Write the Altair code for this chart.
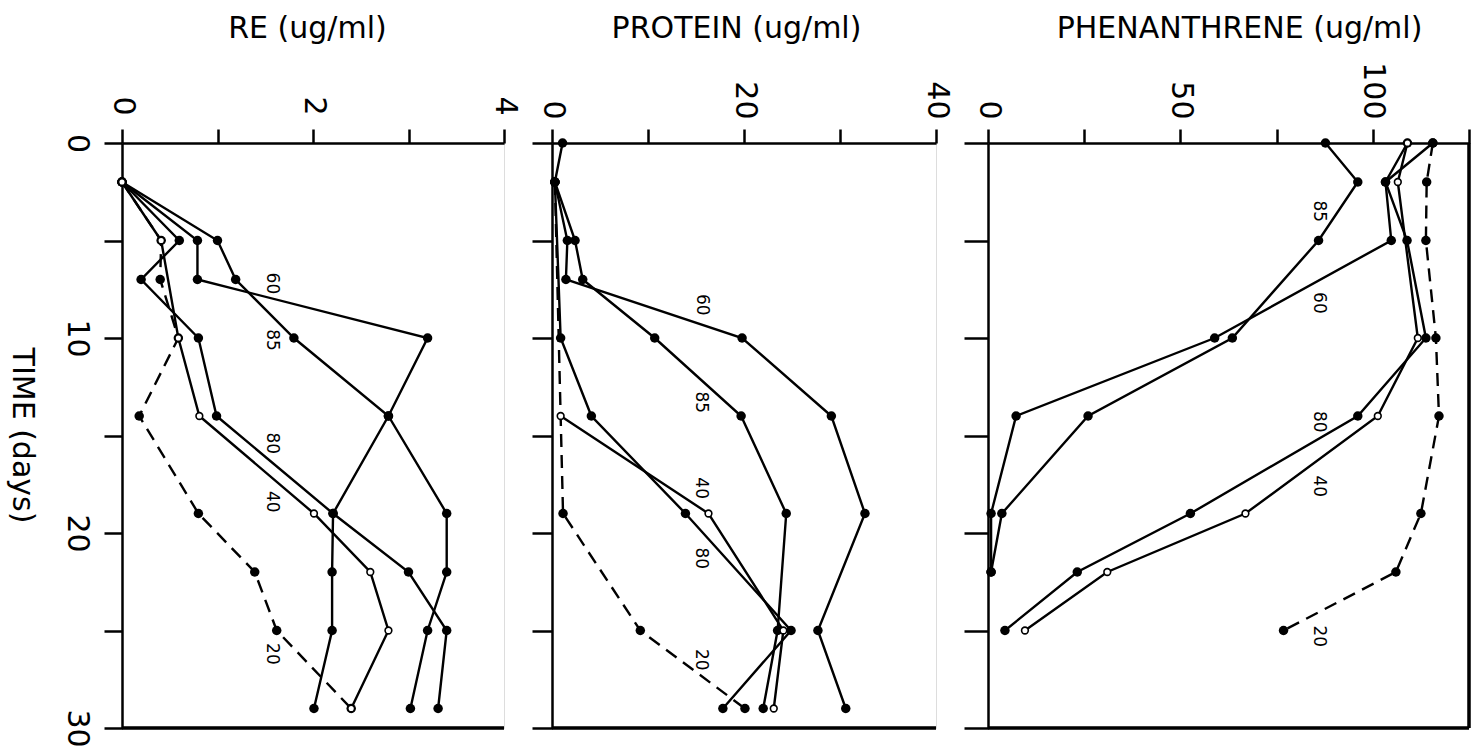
import altair as alt
import pandas as pd

# Sampling days and measured concentrations for each culture (series key = label drawn on the curve)
RE_DAYS = {
    "20": [2, 5, 7, 10, 14, 19, 22, 25, 29],
    "40": [2, 5, 10, 14, 19, 22, 25, 29],
    "60": [2, 5, 7, 10, 14, 19, 22, 25, 29],
    "80": [2, 5, 7, 10, 14, 19, 22, 25, 29],
    "85": [2, 5, 7, 10, 14, 19, 22, 25, 29],
}
RE_VALUES = {
    "20": [0, 0.41, 0.4, 0.59, 0.18, 0.8, 1.39, 1.62, 2.4],
    "40": [0, 0.41, 0.59, 0.81, 2.01, 2.6, 2.79, 2.4],
    "60": [0, 0.79, 0.79, 3.2, 2.79, 2.21, 2.2, 2.2, 2.01],
    "80": [0, 0.6, 0.2, 0.8, 0.99, 2.21, 3.0, 3.4, 3.31],
    "85": [0, 1.0, 1.19, 1.8, 2.79, 3.4, 3.4, 3.2, 3.02],
}

PROTEIN_DAYS = {
    "20": [2, 19, 25, 29],
    "40": [14, 19, 25, 29],
    "60": [0, 2, 5, 7, 10, 14, 19, 25, 29],
    "80": [2, 10, 14, 19, 25, 29],
    "85": [2, 5, 7, 10, 14, 19, 25, 29],
}
PROTEIN_VALUES = {
    "20": [0.3, 1.15, 9.2, 20.1],
    "40": [0.9, 16.3, 24.1, 23.1],
    "60": [1.1, 0.3, 1.6, 1.45, 19.8, 29.1, 32.6, 27.7, 30.6],
    "80": [0.3, 0.9, 4.1, 13.9, 24.9, 17.8],
    "85": [0.3, 2.4, 3.2, 10.7, 19.7, 24.4, 23.5, 22.0],
}

PHEN_DAYS = {
    "20": [0, 2, 5, 10, 14, 19, 22, 25],
    "40": [0, 2, 10, 14, 19, 22, 25],
    "60": [0, 2, 5, 10, 14, 19, 22],
    "80": [0, 2, 5, 10, 14, 19, 22, 25],
    "85": [0, 2, 5, 10, 14, 19, 22],
}
PHEN_VALUES = {
    "20": [115.6, 114, 113.8, 116.4, 117.2, 112.5, 106, 76.8],
    "40": [109, 106.5, 111.7, 101.3, 66.9, 31, 9.6],
    "60": [109, 103.3, 104.8, 58.9, 7.3, 0.8, 0.8],
    "80": [115.6, 103.3, 108.9, 113.8, 96.1, 52.6, 23.2, 4.4],
    "85": [87.7, 96.1, 85.9, 63.5, 26, 3.6, 0.8],
}

# Curve labels: (series, value, day)
RE_LABELS = [("60", 1.57, 7.2), ("85", 1.57, 10.1), ("80", 1.57, 15.4), ("40", 1.57, 18.4), ("20", 1.57, 26.2)]
PROTEIN_LABELS = [("60", 15.6, 8.3), ("85", 15.5, 13.3), ("40", 15.5, 17.7), ("80", 15.5, 21.3), ("20", 15.5, 26.5)]
PHEN_LABELS = [("85", 85.9, 3.5), ("60", 85.9, 8.2), ("80", 85.9, 14.3), ("40", 85.9, 17.6), ("20", 85.9, 25.3)]

TIME_TICKS = [0, 5, 10, 15, 20, 25, 30]
FONT = "DejaVu Sans"


def to_frame(days, values):
    rows = []
    for key in days:
        for d, v in zip(days[key], values[key]):
            rows.append({"series": key, "day": d, "value": v})
    return pd.DataFrame(rows)


def panel(days, values, labels, title, domain, ticks, label_test, width,
          title_x, label_pad, left_tick=20, first=False, right_border=False):
    df = to_frame(days, values)
    lab = pd.DataFrame(labels, columns=["series", "value", "day"])

    x_axis = alt.Axis(
        orient="top", values=ticks, format="d",
        labelExpr=f"{label_test} ? datum.label : ''",
        labelFontSize=alt.condition(label_test, alt.value(30), alt.value(0)),
        labelAngle=90, labelAlign="right", labelBaseline="middle",
        labelFont=FONT, labelColor="black",
        labelPadding=label_pad, labelOverlap=False, labelFlush=False,
        tickSize=14, tickWidth=2.5, tickColor="black",
        domainWidth=2.5, domainColor="black", grid=False,
        title=title, titleFont=FONT, titleFontSize=30, titleFontWeight="normal",
        titleColor="black", titleX=title_x, titleY=-106, titleAngle=0,
        titleAlign="center", titleBaseline="alphabetic",
    )
    if first:
        y_axis = alt.Axis(
            values=TIME_TICKS, format="d",
            labelExpr="datum.value % 10 === 0 ? datum.label : ''",
            labelFontSize=alt.condition("datum.value % 10 === 0", alt.value(30), alt.value(0)),
            labelAngle=90, labelAlign="center", labelBaseline="top",
            labelFont=FONT, labelColor="black", labelPadding=13,
            labelOverlap=False, labelFlush=False,
            tickSize=18, tickWidth=2.5, tickColor="black",
            domainWidth=2.5, domainColor="black", grid=False,
            title="TIME  (days)", titleFont=FONT, titleFontSize=30,
            titleFontWeight="normal", titleColor="black", titleAngle=90,
            titleX=-101, titleY=292, titleAlign="center", titleBaseline="middle",
        )
    else:
        y_axis = alt.Axis(
            values=TIME_TICKS, labels=False, tickSize=left_tick, tickWidth=2.5,
            tickColor="black", domainWidth=2.5, domainColor="black", grid=False,
            title=None,
        )

    x = alt.X("value:Q", scale=alt.Scale(domain=domain, nice=False, zero=False), axis=x_axis)
    y = alt.Y("day:Q", scale=alt.Scale(domain=[0, 30], reverse=True, nice=False, zero=False), axis=y_axis)

    base = alt.Chart(df).encode(x=x, y=y)
    solid = base.transform_filter("datum.series !== '20'").mark_line(
        color="black", strokeWidth=2.4).encode(detail="series:N", order="day:Q")
    dashed = base.transform_filter("datum.series === '20'").mark_line(
        color="black", strokeWidth=2.4, strokeDash=[13, 8]).encode(order="day:Q")
    filled = base.transform_filter("datum.series !== '40'").mark_point(
        shape="circle", filled=True, size=90, color="black", opacity=1)
    hollow = base.transform_filter("datum.series === '40'").mark_point(
        shape="circle", filled=False, size=45, fill="white", stroke="black",
        strokeWidth=1.6, opacity=1, fillOpacity=1)
    text = alt.Chart(lab).mark_text(
        angle=90, fontSize=17, font=FONT, color="black").encode(
        x="value:Q", y="day:Q", text="series:N")
    bottom = alt.Chart(lab).mark_rule(color="black", strokeWidth=2.5).encode(
        x=alt.datum(domain[0]), x2=alt.datum(domain[1]), y=alt.datum(30))

    layers = [solid, dashed, filled, hollow, text, bottom]
    if right_border:
        layers.append(alt.Chart(lab).mark_rule(color="black", strokeWidth=2.5).encode(
            x=alt.datum(domain[1]), y=alt.datum(0), y2=alt.datum(30)))
    return alt.layer(*layers).properties(width=width, height=585)


re_panel = panel(RE_DAYS, RE_VALUES, RE_LABELS, "RE  (ug/ml)", [0, 4], [0, 1, 2, 3, 4],
                 "datum.value % 2 === 0", 382, 185, 14, first=True)
protein_panel = panel(PROTEIN_DAYS, PROTEIN_VALUES, PROTEIN_LABELS, "PROTEIN  (ug/ml)", [0, 40],
                      [0, 10, 20, 30, 40], "datum.value % 20 === 0", 384, 184, 10)
phen_panel = panel(PHEN_DAYS, PHEN_VALUES, PHEN_LABELS, "PHENANTHRENE  (ug/ml)", [0, 125],
                   [0, 25, 50, 75, 100, 125],
                   "datum.value % 50 === 0 && datum.value <= 100", 481, 251, 10,
                   left_tick=24, right_border=True)

chart = alt.hconcat(re_panel, protein_panel, phen_panel, spacing=10).properties(
    padding={"left": 5, "top": 12, "right": 0, "bottom": 0},
    background="white",
).configure_view(stroke=None).configure(font=FONT)

chart.save("out.html", embed_options={"renderer": "svg", "actions": False})
